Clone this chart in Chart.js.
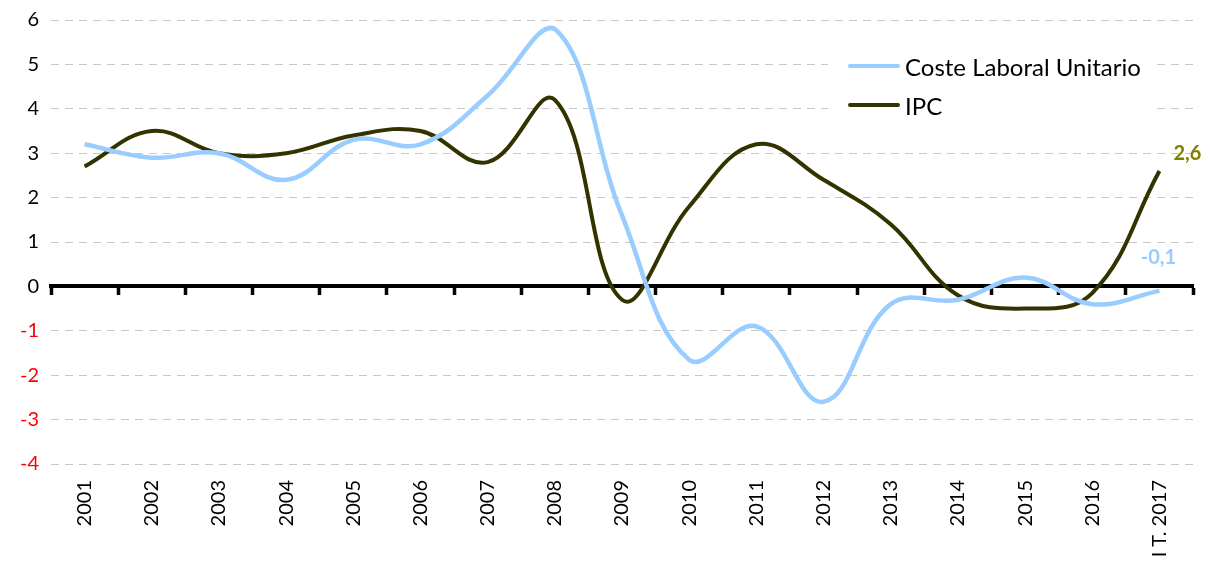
<!DOCTYPE html>
<html><head><meta charset="utf-8">
<script src="https://cdn.jsdelivr.net/npm/chart.js@4.4.1/dist/chart.umd.min.js"></script>
<style>html,body{margin:0;padding:0;background:#fff}#wrap{width:1210px;height:564px}</style>
</head><body><div id="wrap"><canvas id="c" width="1210" height="564"></canvas></div>
<script>
const categories = ['2001','2002','2003','2004','2005','2006','2007','2008','2009','2010','2011','2012','2013','2014','2015','2016','I T. 2017'];
const costeLaboral = [3.2, 2.9, 3.0, 2.4, 3.3, 3.2, 4.3, 5.8, 1.6, -1.65, -0.9, -2.6, -0.4, -0.3, 0.2, -0.4, -0.1];
const ipc = [2.7, 3.5, 3.0, 3.0, 3.4, 3.5, 2.8, 4.2, -0.3, 1.8, 3.2, 2.4, 1.4, -0.2, -0.5, -0.15, 2.6];
const yTicks = [-4, -3, -2, -1, 0, 1, 2, 3, 4, 5, 6];
const endLabels = ['-0,1', '2,6'];

const FONT = 'Lato, "Open Sans", sans-serif';

const overlay = {
  id: 'overlay',
  afterDatasetsDraw(chart) {
    const ctx = chart.ctx;
    const xs = chart.scales.x, ys = chart.scales.y;
    const last = categories.length - 1;
    ctx.save();
    ctx.setLineDash([]);
    ctx.font = 'bold 20px ' + FONT;
    ctx.textBaseline = 'middle';
    ctx.textAlign = 'center';
    const cx = xs.getPixelForValue(last);
    ctx.fillStyle = '#99CCFF';
    ctx.fillText(endLabels[0], cx - 1, ys.getPixelForValue(costeLaboral[last]) - 33);
    ctx.fillStyle = '#808000';
    ctx.fillText(endLabels[1], cx + 28, ys.getPixelForValue(ipc[last]) - 17);
    ctx.restore();
  },
  beforeDatasetsDraw(chart) {
    const ctx = chart.ctx;
    ctx.save();
    ctx.setLineDash([]);
    ctx.fillStyle = '#fff';
    ctx.fillRect(828, 46, 329, 78);
    ctx.font = '24px ' + FONT;
    ctx.textAlign = 'left';
    ctx.textBaseline = 'middle';
    chart.data.datasets.forEach((ds, i) => {
      const y = 66 + i * 39;
      ctx.strokeStyle = ds.borderColor;
      ctx.lineWidth = 4;
      ctx.lineCap = 'round';
      ctx.beginPath(); ctx.moveTo(850, y); ctx.lineTo(898, y); ctx.stroke();
      ctx.fillStyle = '#000';
      ctx.fillText(ds.label, 905, y + 2);
    });
    ctx.restore();
  }
};

new Chart(document.getElementById('c'), {
  type: 'line',
  data: {
    labels: categories,
    datasets: [
      { label: 'Coste Laboral Unitario', data: costeLaboral, borderColor: '#99CCFF', borderWidth: 4.5, tension: 0.4, pointRadius: 0, fill: false, xAxisID: 'x', yAxisID: 'y' },
      { label: 'IPC', data: ipc, borderColor: '#333300', borderWidth: 4, tension: 0.4, pointRadius: 0, fill: false, xAxisID: 'x', yAxisID: 'y' }
    ]
  },
  options: {
    responsive: false,
    animation: false,
    layout: { padding: { top: 20, right: 17, left: 4, bottom: 0 } },
    plugins: { legend: { display: false }, tooltip: { enabled: false } },
    scales: {
      y: {
        min: -4, max: 6,
        afterBuildTicks: (axis) => { axis.ticks = yTicks.map(v => ({ value: v })); },
        border: { display: false, dash: [8, 6] },
        grid: {
          color: (c) => c.tick && c.tick.value === 0 ? 'rgba(0,0,0,0)' : '#c8c8c8',
          lineWidth: 1, drawTicks: false
        },
        ticks: {
          padding: 12,
          font: { family: FONT, size: 20 },
          color: (c) => c.tick.value < 0 ? '#ff0000' : '#000000'
        },
        afterFit: (axis) => { axis.width = 47; axis.paddingTop = 0; axis.paddingBottom = 0; }
      },
      x: {
        type: 'category',
        offset: true,
        grid: { display: false },
        border: { display: false },
        ticks: { minRotation: 90, maxRotation: 90, padding: 8, font: { family: FONT, size: 20 }, color: '#000', autoSkip: false },
        afterFit: (axis) => { axis.height = 100; }
      },
      x2: {
        type: 'category',
        labels: categories,
        position: { y: 0 },
        offset: true,
        grid: { offset: true, drawOnChartArea: false, drawTicks: true, tickLength: 7, tickWidth: 3.5, tickColor: '#000' },
        border: { display: true, color: '#000', width: 4 },
        ticks: { display: false }
      }
    }
  },
  plugins: [overlay]
});
</script>
</body></html>
